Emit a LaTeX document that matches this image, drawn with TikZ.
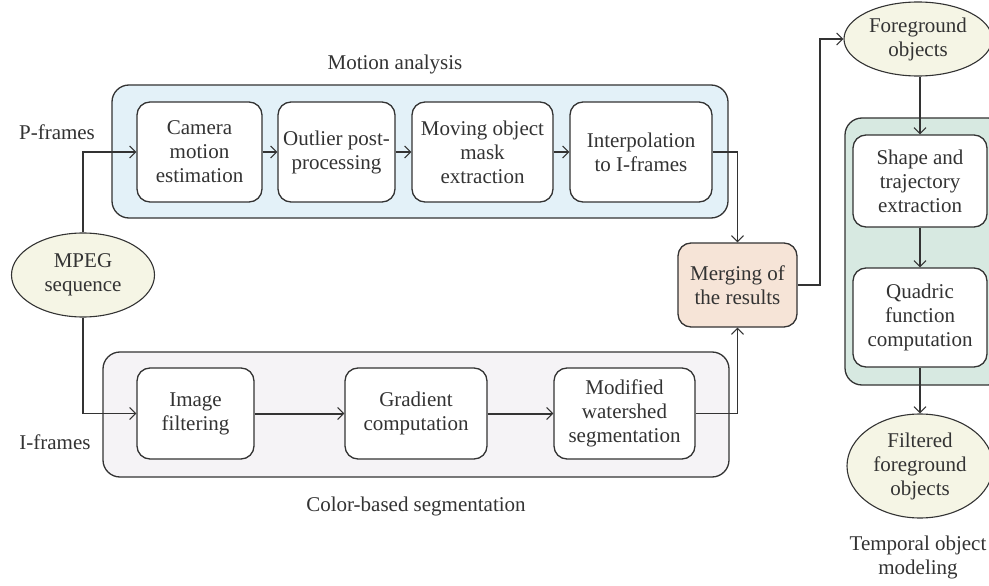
\documentclass[tikz,border=0pt]{standalone}
\usepackage{fontspec}
\setmainfont{Liberation Serif}
\usetikzlibrary{arrows.meta,shapes.geometric}
\definecolor{bluebg}{HTML}{E3F1F8}
\definecolor{graybg}{HTML}{F5F3F6}
\definecolor{greenbg}{HTML}{D7E9E1}
\definecolor{ellbg}{HTML}{F5F5E5}
\definecolor{mergebg}{HTML}{F6E4D7}
\definecolor{ink}{HTML}{333333}
\tikzset{
  txt/.style={font=\fontsize{21}{24}\selectfont, text=ink},
  procbox/.style={txt, draw=ink, line width=1.3pt, fill=white, rounded corners=13pt, inner sep=0pt, align=center},
  groupbox/.style={draw=ink, line width=1.3pt, rounded corners=17pt},
  ell/.style={txt, ellipse, draw=ink, line width=1.1pt, fill=ellbg, inner sep=0pt, align=center},
  arr/.style={draw=ink, line width=1.1pt, -{Straight Barb[length=6pt,width=12pt,line width=1.1pt]}},
  tarr/.style={draw=ink, line width=2pt, -{Straight Barb[length=6pt,width=12pt,line width=1.1pt]}},
  lbl/.style={txt, align=center, inner sep=0pt}
}
\begin{document}
\begin{tikzpicture}[x=1pt,y=-1pt]
\useasboundingbox (0,0) rectangle (989,586);
\clip (0,0) rectangle (989,586);
\fill[white] (0,0) rectangle (989,586);
% group containers
\draw[groupbox, fill=bluebg] (112,85) rectangle (728,218);
\draw[groupbox, fill=graybg] (103,352) rectangle (729,477);
\draw[groupbox, fill=greenbg] (845,118) rectangle (1005,385);
% labels
\node[lbl] (lma) at (395,64) {Motion analysis};
\node[lbl] (lpf) at (57,132) {P-frames};
\node[lbl] (lif) at (55,442) {I-frames};
\node[lbl] (lcs) at (416,506) {Color-based segmentation};
\node[lbl] (lto) at (918,557) {Temporal object\\modeling};
% motion boxes
\node[procbox, minimum width=125pt, minimum height=100pt] (cam) at (199.5,152) {Camera\\motion\\estimation};
\node[procbox, minimum width=117pt, minimum height=100pt] (out) at (336.5,152) {Outlier post-\\processing};
\node[procbox, minimum width=141pt, minimum height=100pt] (mov) at (482.5,152) {Moving object\\mask\\extraction};
\node[procbox, minimum width=142pt, minimum height=100pt] (int) at (641,152) {Interpolation\\to I-frames};
% color boxes
\node[procbox, minimum width=117pt, minimum height=91pt] (img) at (195.5,413.5) {Image\\filtering};
\node[procbox, minimum width=142pt, minimum height=91pt] (grd) at (416,413.5) {Gradient\\computation};
\node[procbox, minimum width=141pt, minimum height=91pt] (mod) at (624.5,413.5) {Modified\\watershed\\segmentation};
% merging
\node[procbox, fill=mergebg, minimum width=119pt, minimum height=84pt] (mrg) at (737.5,285) {Merging of\\the results};
% temporal boxes
\node[procbox, minimum width=134pt, minimum height=92pt] (shp) at (920,181) {Shape and\\trajectory\\extraction};
\node[procbox, minimum width=134pt, minimum height=99pt] (qdr) at (920,317.5) {Quadric\\function\\computation};
% ellipses
\node[ell, minimum width=143pt, minimum height=84pt] (mpeg) at (83,275) {MPEG\\sequence};
\node[ell, minimum width=148pt, minimum height=74pt] (fg) at (918,39) {Foreground\\objects};
\node[ell, minimum width=146pt, minimum height=104pt] (flt) at (920,466) {Filtered\\foreground\\objects};
% connectors
\draw[arr] (mpeg.north) |- (cam.west);
\draw[arr] (mpeg.south) |- (img.west);
\draw[tarr] (cam) -- (out);
\draw[tarr] (out) -- (mov);
\draw[tarr] (mov) -- (int);
\draw[tarr] (img) -- (grd);
\draw[tarr] (grd) -- (mod);
\draw[arr] (int.east) -| (mrg.north);
\draw[arr] (mod.east) -| (mrg.south);
\coordinate (bend) at (820,285);
\draw[arr] (mrg.east) -- (bend) |- (fg.west);
\draw[tarr] (fg.south -| shp.north) -- (shp.north);
\draw[tarr] (shp) -- (qdr);
\draw[tarr] (qdr.south) -- (flt.north);
\end{tikzpicture}
\end{document}
